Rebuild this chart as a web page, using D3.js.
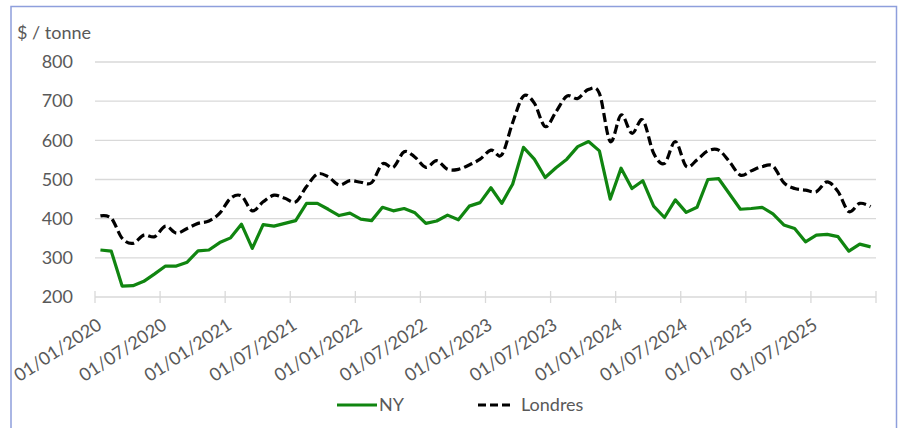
<!DOCTYPE html>
<html>
<head>
<meta charset="utf-8">
<script src="https://cdn.jsdelivr.net/npm/d3@7"></script>
<style>
  html, body { margin: 0; padding: 0; background: #ffffff; }
  svg { display: block; }
  text { font-family: Lato, "Open Sans", sans-serif; fill: #595959; }
</style>
</head>
<body>
<svg id="chart" width="901" height="428"></svg>
<script>
// ---- Data (monthly, Jan 2020 – Dec 2025) ----
const months = d3.timeMonth.range(new Date(2020, 0, 1), new Date(2026, 0, 1));

const ny = [
  320, 317, 228, 229, 240, 259, 279, 279, 289, 318, 320, 339,
  351, 386, 324, 385, 381, 388, 395, 439, 439, 424, 408, 414,
  399, 395, 429, 420, 426, 415, 388, 394, 409, 397, 432, 441,
  479, 439, 488, 582, 552, 505, 530, 552, 584, 597, 573, 450,
  529, 477, 497, 432, 403, 448, 416, 429, 500, 502, 463, 424,
  426, 429, 412, 384, 375, 341, 358, 360, 354, 317, 335, 328
];

const londres = [
  407, 401, 350, 337, 358, 354, 381, 363, 375, 388, 394, 414,
  452, 458, 420, 443, 460, 452, 443, 482, 514, 507, 486, 497,
  493, 492, 540, 531, 571, 557, 531, 548, 526, 526, 537, 552,
  575, 563, 645, 713, 695, 635, 673, 713, 707, 730, 720, 597,
  665, 618, 652, 567, 541, 597, 534, 550, 573, 575, 545, 511,
  522, 533, 534, 492, 477, 473, 469, 494, 469, 418, 439, 431
];

const yTicks = [200, 300, 400, 500, 600, 700, 800];
const xTickLabels = [
  "01/01/2020", "01/07/2020", "01/01/2021", "01/07/2021",
  "01/01/2022", "01/07/2022", "01/01/2023", "01/07/2023",
  "01/01/2024", "01/07/2024", "01/01/2025", "01/07/2025"
];
const seriesNames = ["NY", "Londres"];
const yTitle = "$ / tonne";

// ---- Layout ----
const svg = d3.select("#chart");
const pLeft = 95, pRight = 876, pTop = 62, pBottom = 297;

// border
svg.append("rect")
  .attr("x", 11).attr("y", 6.5)
  .attr("width", 885.5).attr("height", 430)
  .attr("fill", "none").attr("stroke", "#8e9fdc").attr("stroke-width", 1.5);

const x = d3.scaleBand().domain(months.map((d, i) => i)).range([pLeft, pRight]).paddingInner(0).paddingOuter(0);
const cx = i => x(i) + x.bandwidth() / 2;
const y = d3.scaleLinear().domain([200, 800]).range([pBottom, pTop]);

// gridlines
svg.append("g").selectAll("line")
  .data(yTicks.filter(v => v > 200))
  .join("line")
  .attr("x1", pLeft).attr("x2", pRight)
  .attr("y1", d => y(d)).attr("y2", d => y(d))
  .attr("stroke", "#d9d9d9").attr("stroke-width", 1.3);

// y axis labels
const yAxis = d3.axisLeft(y).tickValues(yTicks).tickSize(0).tickPadding(0);
const gy = svg.append("g").attr("transform", "translate(73,0)").call(yAxis);
gy.select(".domain").remove();
gy.selectAll("text")
  .attr("font-family", "Lato, sans-serif")
  .style("font-size", "18px").style("fill", "#595959");

// y title
svg.append("text").attr("x", 17).attr("y", 39)
  .style("font-size", "18px").text(yTitle);

// x axis line & ticks
const tickIdx = d3.range(0, months.length + 1, 6);
const tickX = i => (i < months.length ? x(i) : pRight);
svg.append("line")
  .attr("x1", pLeft).attr("x2", pRight).attr("y1", pBottom).attr("y2", pBottom)
  .attr("stroke", "#d9d9d9").attr("stroke-width", 1.3);
svg.append("g").selectAll("line")
  .data(tickIdx).join("line")
  .attr("x1", d => tickX(d)).attr("x2", d => tickX(d))
  .attr("y1", pBottom - 6).attr("y2", pBottom + 6)
  .attr("stroke", "#d9d9d9").attr("stroke-width", 1.3);

// x labels
svg.append("g").selectAll("text")
  .data(xTickLabels).join("text")
  .attr("text-anchor", "end")
  .attr("transform", (d, j) => `translate(${cx(j * 6) + 2.5},328) rotate(-33)`)
  .style("font-size", "18px")
  .text(d => d);

// lines
const lineNY = d3.line().x((d, i) => cx(i)).y(d => y(d));
const lineLon = d3.line().x((d, i) => cx(i)).y(d => y(d)).curve(d3.curveCatmullRom.alpha(0));

svg.append("path").datum(ny)
  .attr("d", lineNY).attr("fill", "none")
  .attr("stroke", "#108510").attr("stroke-width", 3.2)
  .attr("stroke-linejoin", "round");

svg.append("path").datum(londres)
  .attr("d", lineLon).attr("fill", "none")
  .attr("stroke", "#000000").attr("stroke-width", 3.2)
  .attr("stroke-dasharray", "9,4");

// legend
const lg = svg.append("g");
lg.append("line").attr("x1", 337).attr("x2", 377).attr("y1", 405).attr("y2", 405)
  .attr("stroke", "#108510").attr("stroke-width", 3.2);
lg.append("text").attr("x", 379).attr("y", 411).style("font-size", "18px").text(seriesNames[0]);
lg.append("line").attr("x1", 478).attr("x2", 510).attr("y1", 405).attr("y2", 405)
  .attr("stroke", "#000").attr("stroke-width", 3.2).attr("stroke-dasharray", "8,4");
lg.append("text").attr("x", 521).attr("y", 411).style("font-size", "18px").text(seriesNames[1]);
</script>
</body>
</html>
